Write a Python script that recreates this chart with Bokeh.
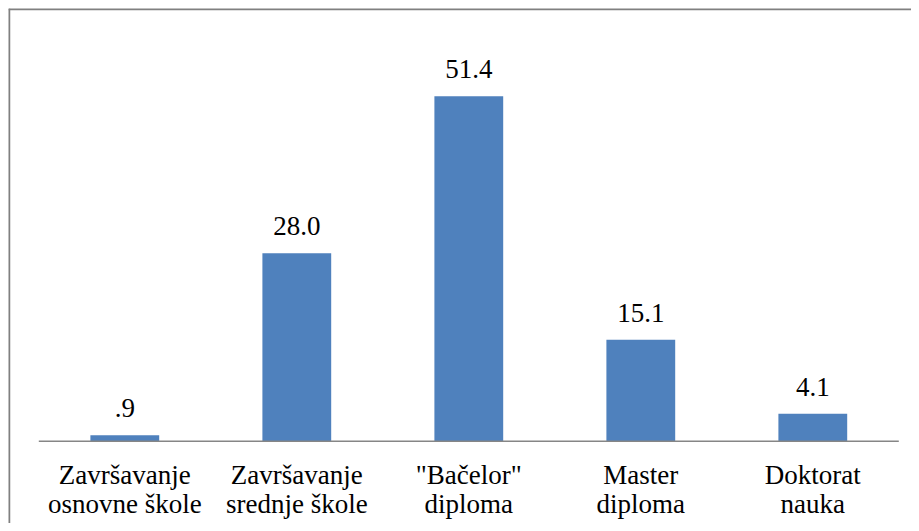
from bokeh.plotting import figure
from bokeh.models import ColumnDataSource, LabelSet, Span, Range1d
from bokeh.core.properties import value
from bokeh.embed import file_html
from bokeh.resources import INLINE

categories = ["Završavanje\nosnovne škole", "Završavanje\nsrednje škole", "\"Bačelor\"\ndiploma", "Master\ndiploma", "Doktorat\nnauka"]
values = [0.9, 28.0, 51.4, 15.1, 4.1]
value_labels = [".9", "28.0", "51.4", "15.1", "4.1"]

idx = list(range(len(categories)))
line1 = [c.split("\n")[0] for c in categories]
line2 = [c.split("\n")[1] for c in categories]
source = ColumnDataSource(data=dict(x=idx, val=values, lab=value_labels, l1=line1, l2=line2))

FONT = "Liberation Serif"
W, H = 911, 523
FRAME_L, FRAME_T = 8, 8          # chart border position (px)
CAT_PX = 172.0                   # width of one category (px)
FIRST_CENTER = 124.3             # px of first category centre
ZERO_Y = 440.7                   # px of value axis zero
PX_PER_UNIT = 6.712              # px per value unit

x_start = -(FIRST_CENTER - FRAME_L) / CAT_PX
x_end = x_start + (W - FRAME_L) / CAT_PX
y_end = (ZERO_Y - FRAME_T) / PX_PER_UNIT
y_start = -(H - ZERO_Y) / PX_PER_UNIT

p = figure(x_range=Range1d(x_start, x_end), y_range=Range1d(y_start, y_end),
           width=W, height=H, output_backend="svg", toolbar_location=None,
           min_border_left=FRAME_L, min_border_right=0, min_border_top=FRAME_T, min_border_bottom=0,
           x_axis_location=None, y_axis_location=None)
p.xgrid.visible = False
p.ygrid.visible = False
p.outline_line_color = None
p.background_fill_color = "white"
p.border_fill_color = "white"

# chart border (left and top)
p.add_layout(Span(location=x_start, dimension="height", line_color="#808080", line_width=3.5))
p.add_layout(Span(location=y_end, dimension="width", line_color="#808080", line_width=3.5))

p.vbar(x="x", top="val", width=0.4, source=source, fill_color="#4f81bd", line_color=None)

# category axis line
p.segment(x0=[-0.5], x1=[len(categories) - 0.5], y0=[0], y1=[0], line_color="#868686", line_width=1.5)

labels = LabelSet(x="x", y="val", text="lab", source=source, text_align="center",
                  text_baseline="alphabetic", y_offset=18, text_font=FONT,
                  text_font_size="27px", text_color="#000000")
p.add_layout(labels)

p.text(x="x", y=0, text="l1", source=source, y_offset=33.5, text_align="center",
       text_baseline="alphabetic", text_font=value(FONT), text_font_size="27px", text_color="#000000")
p.text(x="x", y=0, text="l2", source=source, y_offset=63, text_align="center",
       text_baseline="alphabetic", text_font=value(FONT), text_font_size="27px", text_color="#000000")

open("out.html", "w").write(file_html(p, INLINE))
